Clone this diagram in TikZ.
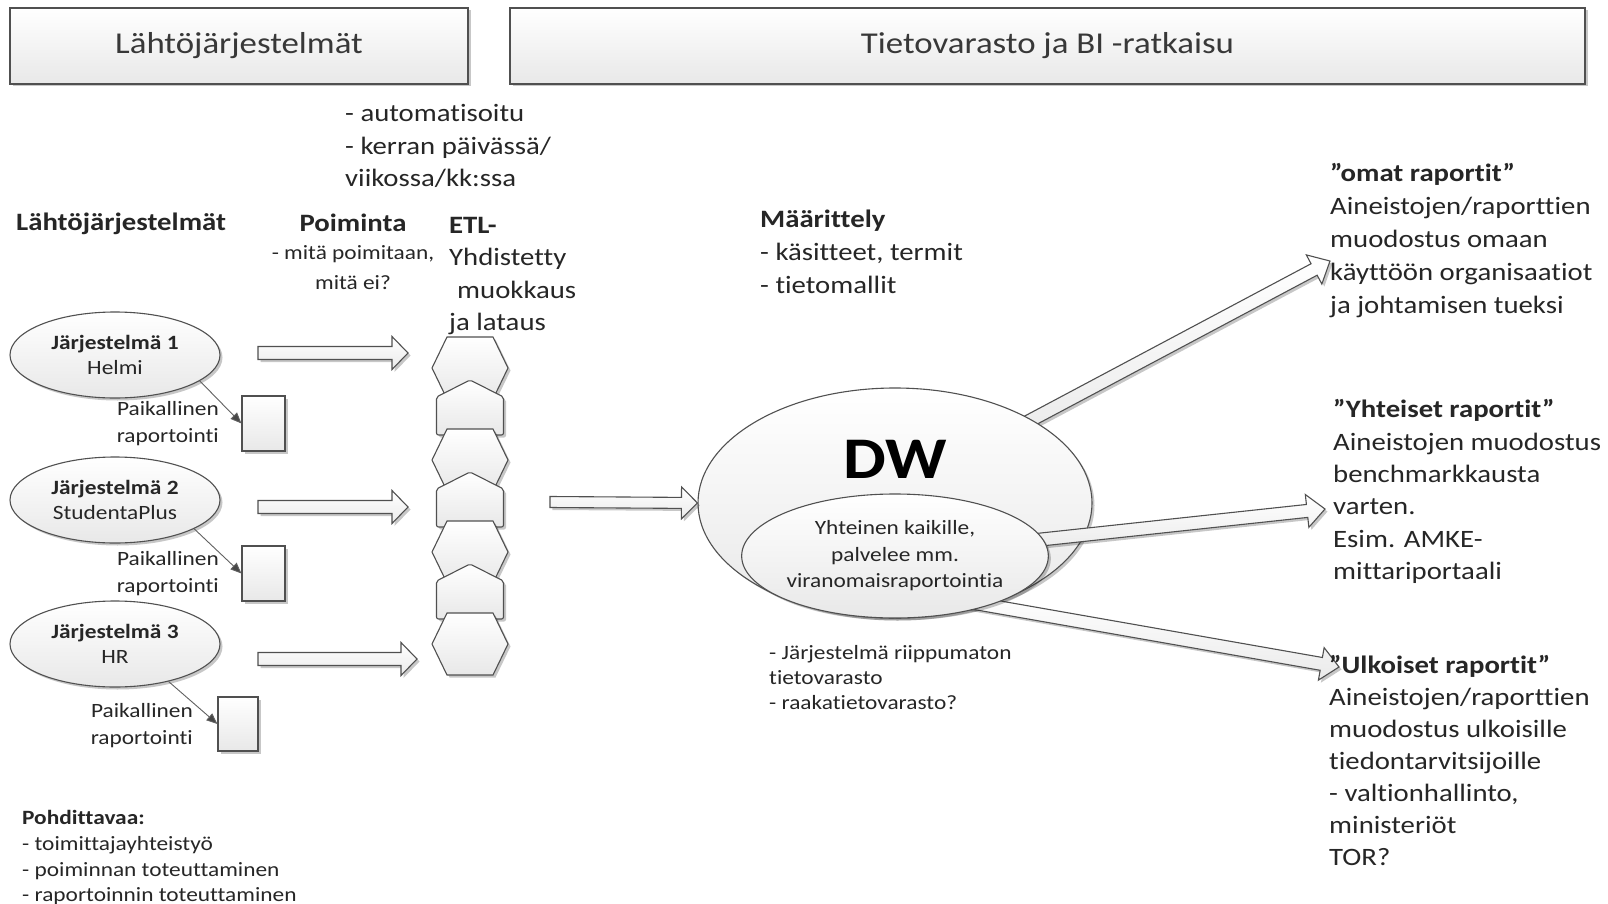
\documentclass[tikz,border=0pt]{standalone}
\usepackage{fontspec}
\setmainfont{Carlito}[FakeStretch=1.15,Ligatures={NoCommon}]
\usetikzlibrary{shapes.geometric,shadows,calc,arrows.meta}
\definecolor{txt}{HTML}{262626}
\definecolor{edge}{HTML}{505050}
\tikzset{
  shd/.style={drop shadow={shadow xshift=2.5pt,shadow yshift=-2.5pt,opacity=0.22,fill=black}},
  shapefill/.style={draw=edge,line width=1.1pt,top color=white,bottom color=black!9,shd},
  titlebox/.style={shapefill,rectangle,minimum height=76pt,inner sep=0pt,text=black!78,font=\fontsize{30.3}{36}\selectfont},
  sysell/.style={shapefill,ellipse,minimum width=210pt,minimum height=86pt,inner sep=0pt,align=center,text=txt,font=\fontsize{20.3}{25}\selectfont},
  locrect/.style={shapefill,rectangle,inner sep=0pt,minimum width=43pt,minimum height=55pt},
  locline/.style={draw=black!62,line width=0.9pt,-{Triangle[length=11pt,width=9pt,fill=black!72]}},
  barrow/.style={draw=edge,line width=1.1pt,top color=white,bottom color=black!8,shd},
  etlshape/.style={draw=edge,line width=1.1pt,top color=white,bottom color=black!9,shd},
  bigtxt/.style={text=txt,inner sep=0pt,align=left,font=\fontsize{25}{#1}\selectfont,execute at begin node=\strut},
  bigtxt/.default=33,
  smalltxt/.style={text=txt,inner sep=0pt,font=\fontsize{20.3}{#1}\selectfont,execute at begin node=\strut},
  smalltxt/.default=26.7,
}
% block arrow: [opts]{start}{end}{shaft half}{head half}{head length}
\newcommand\blockarrow[6][]{%
  \path[barrow,#1] let \p1=(#2), \p2=(#3),
     \n1={atan2(\y2-\y1,\x2-\x1)}, \n2={veclen(\x2-\x1,\y2-\y1)} in
     [shift={(\p1)}, rotate=\n1]
     (0pt,-#4pt) -- ({\n2-#6pt},-#4pt) -- ({\n2-#6pt},-#5pt) -- ({\n2+0pt},0pt)
     -- ({\n2-#6pt},#5pt) -- ({\n2-#6pt},#4pt) -- (0pt,#4pt) -- cycle;}
\newcommand\hexat[1]{%
  \path[etlshape] (432,#1) -- (447,#1-31) -- (493,#1-31) -- (508,#1) -- (493,#1+31) -- (447,#1+31) -- cycle;}
\newcommand\pentat[1]{%
  \path[etlshape,rounded corners=2pt] (436.5,#1+17) -- (470,#1) -- (503.5,#1+17) -- (503.5,#1+55) -- (436.5,#1+55) -- cycle;}

\begin{document}
\begin{tikzpicture}[x=1pt,y=-1pt]
\fill[white] (0,0) rectangle (1608,904);
\useasboundingbox (0,0) rectangle (1608,904);

% title boxes
\node[titlebox,minimum width=458pt] (tA) at (239,46) {Lähtöjärjestelmät};
\node[titlebox,minimum width=1075pt] (tB) at (1047.5,46) {Tietovarasto ja BI -ratkaisu};

% headings and notes
\node[bigtxt=32.5,anchor=north west] (auto) at (345,104.3)
  {- automatisoitu\\- kerran päivässä/\\viikossa/kk:ssa};
\node[bigtxt,anchor=north west,font=\fontsize{25}{33}\selectfont\bfseries] (lj) at (16,207) {Lähtöjärjestelmät};
\node[bigtxt,anchor=north,font=\fontsize{25}{33}\selectfont\bfseries] (poim) at (353,208.5) {Poiminta};
\node[smalltxt=30,anchor=north,align=center] (poimtxt) at (353,245.4) {- mitä poimitaan,\\mitä ei?};
\node[bigtxt=32.5,anchor=north west] (etl) at (449,217)
  {\textbf{ETL-}\\Yhdistetty\\\hspace*{8pt}muokkaus\\ja lataus};
\node[bigtxt,anchor=north west] (maar) at (760,209.9)
  {\textbf{Määrittely}\\- käsitteet, termit\\- tietomallit};

% source systems
\node[sysell] (s1) at (115,355) {\textbf{Järjestelmä 1}\\Helmi};
\node[sysell] (s2) at (115,500) {\textbf{Järjestelmä 2}\\StudentaPlus};
\node[sysell] (s3) at (115,644) {\textbf{Järjestelmä 3}\\HR};

\node[locrect] (r1) at (263.5,423.5) {};
\node[locrect] (r2) at (263.5,573.5) {};
\node[locrect,minimum width=40pt,minimum height=54pt] (r3) at (238,724) {};

\node[smalltxt,anchor=north east,align=right] (p1) at (219,401.3) {Paikallinen\\raportointi};
\node[smalltxt,anchor=north east,align=right] (p2) at (219,551.3) {Paikallinen\\raportointi};
\node[smalltxt,anchor=north east,align=right] (p3) at (193,703.3) {Paikallinen\\raportointi};

\draw[locline] (s1.-17) -- (r1.west);
\draw[locline] (s2.-20) -- (r2.west);
\draw[locline] (s3.-35) -- (r3.west);

% extraction arrows
\coordinate (a1s) at (258,353); \coordinate (a1e) at (408,353);
\coordinate (a2s) at (258,507); \coordinate (a2e) at (408,507);
\coordinate (a3s) at (258,659); \coordinate (a3e) at (417,659);
\blockarrow{a1s}{a1e}{6.5}{16.5}{16}
\blockarrow{a2s}{a2e}{6.5}{16.5}{16}
\blockarrow{a3s}{a3e}{6.5}{16.5}{16}

% ETL column
\hexat{368}
\pentat{380}
\hexat{460}
\pentat{472}
\hexat{552}
\pentat{564}
\hexat{644}

% DW
\coordinate (o1s) at (1001,436); \coordinate (o1e) at (1330,261);
\blockarrow{o1s}{o1e}{6.5}{16.5}{18}
\node[shapefill,ellipse,minimum width=394pt,minimum height=230pt,inner sep=0pt] (dw) at (895,503) {};
\coordinate (etlout) at (550,502);
\blockarrow{etlout}{dw.west}{5.5}{16}{16}
\coordinate (o2s) at (990,545); \coordinate (o2e) at (1325,509);
\coordinate (o3s) at (946,598); \coordinate (o3e) at (1339,667);
\blockarrow{o2s}{o2e}{6.5}{16.5}{18}
\blockarrow{o3s}{o3e}{6.5}{16.5}{18}
\node[text=black,inner sep=0pt,font=\fontsize{59}{60}\selectfont\bfseries] (dwt) at (895,459) {DW};
\node[shapefill,ellipse,minimum width=286pt,minimum height=124pt,inner sep=0pt,align=center,text=txt,font=\fontsize{20.3}{26.5}\selectfont] (dwin) at (895,556)
  {Yhteinen kaikille,\\palvelee mm.\\viranomaisraportointia};

\node[smalltxt=25,anchor=north west,align=left] (dwnote) at (769,645.5)
  {- Järjestelmä riippumaton\\tietovarasto\\- raakatietovarasto?};

% reports
\node[bigtxt,anchor=north west] (omat) at (1330,162.9)
  {\textbf{”omat raportit”}\\Aineistojen/raporttien\\muodostus omaan\\käyttöön organisaatiot\\ja johtamisen tueksi};
\node[bigtxt=32.4,anchor=north west] (yht) at (1333,399.3)
  {\textbf{”Yhteiset raportit”}\\Aineistojen muodostus\\benchmarkkausta\\varten.\\Esim. AMKE-\\mittariportaali};
\node[bigtxt=32,anchor=north west] (ulk) at (1329,655.6)
  {\textbf{”Ulkoiset raportit”}\\Aineistojen/raporttien\\muodostus ulkoisille\\tiedontarvitsijoille\\- valtionhallinto,\\ministeriöt\\TOR?};

% considerations
\node[smalltxt=25.6,anchor=north west,align=left] (pohd) at (22,810.5)
  {\textbf{Pohdittavaa:}\\- toimittajayhteistyö\\- poiminnan toteuttaminen\\- raportoinnin toteuttaminen};
\end{tikzpicture}
\end{document}
